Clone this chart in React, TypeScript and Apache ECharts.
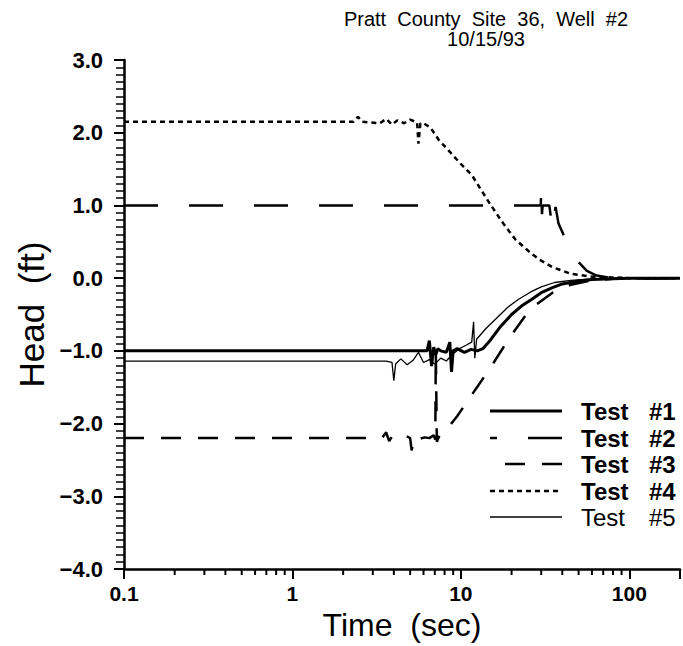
import React, { useEffect, useRef } from "react";
import * as echarts from "echarts";

// ---- Data (time in seconds, head in feet) ----
const test1Time = [0.1, 6.3, 6.5, 6.7, 6.9, 7.1, 7.3, 7.6, 8.2, 8.6, 8.8, 9.0, 9.5, 10.5, 11.5, 12.5, 13.5, 15, 17, 20, 23, 26.4, 30, 35, 40, 50, 60, 80, 100, 200];
const test1Head = [-1.0, -1.0, -0.86, -1.21, -0.95, -1.05, -0.97, -1.0, -1.02, -0.88, -1.29, -1.0, -0.97, -1.02, -0.98, -1.0, -0.97, -0.85, -0.68, -0.5, -0.38, -0.29, -0.2, -0.13, -0.08, -0.04, -0.02, -0.01, 0, 0];

const test2Time = [0.1, 29.8, 30.1, 30.3, 30.6, 33.5, 35, 36.5, 38, 41, 45.4, 50, 56, 63, 75, 100, 200];
const test2Head = [1.0, 1.0, 1.26, 0.88, 1.0, 1.0, 0.68, 0.98, 0.75, 0.58, 0.37, 0.22, 0.1, 0.04, 0.01, 0, 0];

const test3Time = [0.1, 3.4, 3.6, 3.75, 3.9, 4.3, 4.7, 5.0, 5.1, 5.3, 5.7, 6.1, 6.5, 6.9, 7.05, 7.1, 7.2, 7.5, 8.0, 9.5, 12.3, 15.2, 19.2, 24.6, 28.2, 35, 45, 60, 80, 100, 200];
const test3Head = [-2.2, -2.2, -2.12, -2.24, -2.18, -2.22, -2.17, -2.2, -2.37, -2.18, -2.21, -2.19, -2.2, -2.16, -2.22, -1.0, -2.25, -2.15, -2.12, -1.9, -1.52, -1.21, -0.84, -0.49, -0.36, -0.2, -0.09, -0.03, -0.01, 0, 0];

const test4Time = [0.1, 2.3, 2.45, 2.6, 3.3, 3.6, 3.9, 4.2, 4.6, 5.0, 5.5, 5.6, 5.75, 6.0, 6.6, 7.4, 8.5, 10, 11.6, 13.3, 15.2, 18, 21.1, 25, 29, 35, 45, 60, 80, 100, 200];
const test4Head = [2.15, 2.15, 2.22, 2.15, 2.13, 2.19, 2.11, 2.17, 2.13, 2.18, 2.14, 1.85, 2.13, 2.13, 2.07, 1.9, 1.75, 1.57, 1.42, 1.2, 0.99, 0.74, 0.53, 0.38, 0.26, 0.15, 0.06, 0.02, 0.01, 0, 0];

const test5Time = [0.1, 3.6, 3.9, 4.0, 4.1, 4.4, 4.8, 5.2, 5.6, 6.0, 6.5, 7.0, 7.6, 8.2, 8.8, 9.8, 10.8, 11.6, 11.9, 12.1, 12.4, 14, 16.8, 19, 22, 26, 30, 36, 45, 60, 100, 200];
const test5Head = [-1.14, -1.14, -1.16, -1.41, -1.18, -1.11, -1.19, -1.13, -1.02, -1.16, -1.12, -1.18, -1.1, -1.14, -1.06, -0.97, -0.92, -0.88, -0.6, -1.1, -0.84, -0.7, -0.52, -0.4, -0.29, -0.19, -0.12, -0.06, -0.03, -0.01, 0, 0];

const minorTimeTicks = [0.2, 0.3, 0.4, 0.5, 0.6, 0.7, 0.8, 0.9, 2, 3, 4, 5, 6, 7, 8, 9, 20, 30, 40, 50, 60, 70, 80, 90];

const legendNames = ["Test", "Test", "Test", "Test", "Test"];
const legendNumbers = ["#1", "#2", "#3", "#4", "#5"];

const titleText = "Pratt  County  Site  36,  Well  #2\n10/15/93";
const xName = "Time  (sec)";
const yName = "Head  (ft)";

const FONT = "'Liberation Sans', Arial, sans-serif";

function pairs(t: number[], v: number[]) {
  return t.map((x, i) => [x, v[i]]);
}

export default function App() {
  const ref = useRef<HTMLDivElement>(null);

  useEffect(() => {
    if (!ref.current) return;
    const chart = echarts.init(ref.current, null, { renderer: "svg" });

    const seriesDefs = [
      { name: "Test #1", t: test1Time, v: test1Head, width: 3, type: "solid" as any },
      { name: "Test #2", t: test2Time, v: test2Head, width: 2.5, type: [34, 31] },
      { name: "Test #3", t: test3Time, v: test3Head, width: 2.5, type: [20, 17] },
      { name: "Test #4", t: test4Time, v: test4Head, width: 2.5, type: [5, 4] },
      { name: "Test #5", t: test5Time, v: test5Head, width: 1.3, type: "solid" as any },
    ];

    const legendStyles = [
      { width: 3, dash: null, offset: 0, bold: true },
      { width: 2.5, dash: [34, 31], offset: 27, bold: true },
      { width: 2.5, dash: [20, 17], offset: 22, bold: true },
      { width: 2.5, dash: [5, 4], offset: 0, bold: true },
      { width: 1.3, dash: null, offset: 0, bold: false },
    ];
    const rowY = [411, 438, 464, 491, 517];

    const legendGraphics: any[] = [];
    legendStyles.forEach((s, i) => {
      legendGraphics.push({
        type: "line",
        shape: { x1: 490, y1: rowY[i], x2: 562, y2: rowY[i] },
        style: {
          stroke: "#000",
          lineWidth: s.width,
          lineDash: s.dash || undefined,
          lineDashOffset: s.offset,
        },
      });
      legendGraphics.push({
        type: "text",
        x: 581,
        y: rowY[i],
        style: {
          text: legendNames[i],
          fill: "#000",
          font: `${s.bold ? "bold " : ""}24px ${FONT}`,
          verticalAlign: "middle",
          align: "left",
        },
      });
      legendGraphics.push({
        type: "text",
        x: 649,
        y: rowY[i],
        style: {
          text: legendNumbers[i],
          fill: "#000",
          font: `${s.bold ? "bold " : ""}24px ${FONT}`,
          verticalAlign: "middle",
          align: "left",
        },
      });
    });

    const option: any = {
      animation: false,
      backgroundColor: "#ffffff",
      title: {
        text: titleText,
        left: 481,
        top: 4,
        textAlign: "center",
        textStyle: {
          fontFamily: FONT,
          fontSize: 20,
          fontWeight: "normal",
          lineHeight: 20,
          color: "#000",
        },
      },
      grid: { left: 124, right: 1, top: 60, bottom: 75 },
      xAxis: {
        type: "log",
        logBase: 10,
        min: 0.1,
        max: 200,
        name: xName,
        nameLocation: "middle",
        nameGap: 40,
        nameTextStyle: { fontFamily: FONT, fontSize: 32, color: "#000" },
        axisLine: { onZero: false, lineStyle: { color: "#000", width: 2.5 } },
        axisTick: { show: true, length: 10, lineStyle: { color: "#000", width: 2 } },
        axisLabel: {
          margin: 14,
          fontFamily: FONT,
          fontSize: 21,
          fontWeight: "bold",
          color: "#000",
          formatter: (v: number) => {
            const e = Math.log10(v);
            if (Math.abs(e - Math.round(e)) > 1e-6 || Math.round(e) > 2) return "";
            const r = Math.round(e);
            return r < 0 ? "0.1" : String(Math.pow(10, r));
          },
        },
        splitLine: { show: false },
      },
      yAxis: {
        type: "value",
        min: -4,
        max: 3,
        interval: 1,
        name: yName,
        nameLocation: "middle",
        nameRotate: 90,
        nameGap: 72,
        nameTextStyle: { fontFamily: FONT, fontSize: 35, color: "#000" },
        axisLine: { show: true, onZero: false, lineStyle: { color: "#000", width: 2.5 } },
        axisTick: { show: true, length: 10, lineStyle: { color: "#000", width: 2 } },
        minorTick: { show: true, splitNumber: 10, length: 8, lineStyle: { color: "#000", width: 1.5 } },
        axisLabel: {
          margin: 21,
          fontFamily: FONT,
          fontSize: 22,
          fontWeight: "bold",
          color: "#000",
          formatter: (v: number) => (v < 0 ? "\u2212" : "") + Math.abs(v).toFixed(1),
        },
        splitLine: { show: false },
      },
      graphic: legendGraphics,
      series: [
        ...seriesDefs.map((s) => ({
          name: s.name,
          type: "line",
          data: pairs(s.t, s.v),
          showSymbol: false,
          symbol: "none",
          lineStyle: { color: "#000", width: s.width, type: s.type },
          itemStyle: { color: "#000" },
        })),
        {
          name: "minor ticks",
          type: "custom",
          clip: false,
          data: minorTimeTicks.map((t) => [t, -4]),
          encode: { x: 0, y: 1 },
          renderItem: (params: any, api: any) => {
            const p = api.coord([api.value(0), api.value(1)]);
            return {
              type: "line",
              shape: { x1: p[0], y1: p[1], x2: p[0], y2: p[1] + 6 },
              style: { stroke: "#000", lineWidth: 2 },
            };
          },
        },
      ],
    };

    chart.setOption(option);
    return () => chart.dispose();
  }, []);

  return (
    <div
      ref={ref}
      style={{ position: "fixed", left: 0, top: 0, width: 683, height: 646, background: "#fff" }}
    />
  );
}
